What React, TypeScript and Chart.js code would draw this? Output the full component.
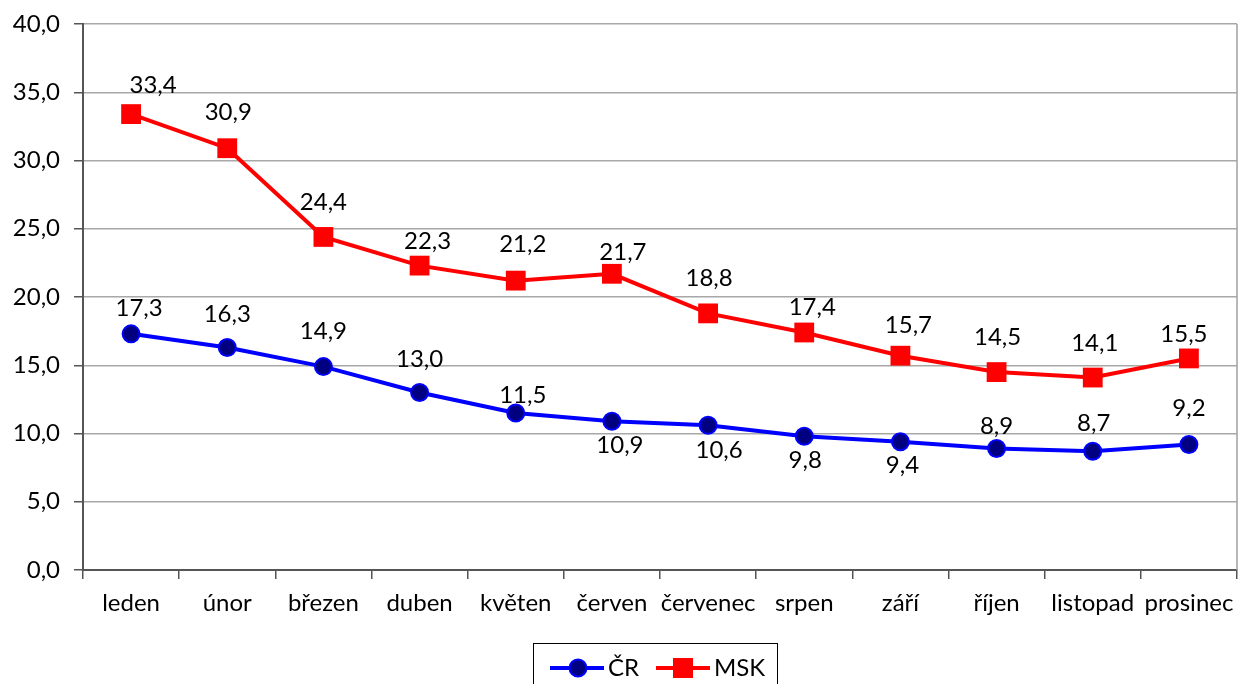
import React, { useEffect, useRef } from "react";
import { Chart, registerables } from "chart.js";

Chart.register(...registerables);

const months = ["leden", "únor", "březen", "duben", "květen", "červen", "červenec", "srpen", "září", "říjen", "listopad", "prosinec"];
const crValues = [17.3, 16.3, 14.9, 13.0, 11.5, 10.9, 10.6, 9.8, 9.4, 8.9, 8.7, 9.2];
const mskValues = [33.4, 30.9, 24.4, 22.3, 21.2, 21.7, 18.8, 17.4, 15.7, 14.5, 14.1, 15.5];
const crLabelDx = [8, 0, 0, 0, 7, 8, 11, 1, 2, 0, 1, 0];
const crLabelDy = [-26, -33, -35, -33, -18, 24, 25, 24, 24, -22, -28, -36];
const mskLabelDx = [22, 1, 0, 8, 7, 11, 1, 8, 8, 1, 2, -5];
const mskLabelDy = [-29, -36, -35, -24, -36, -22, -35, -25, -30, -35, -34, -24];

const FONT = "Lato";
const FSIZE = 24;
const fmt = (v: number) => v.toFixed(1).replace(".", ",");

const labelPlugin = {
  id: "valueLabels",
  afterDatasetsDraw(chart: any) {
    const ctx = chart.ctx;
    ctx.save();
    ctx.font = `${FSIZE}px ${FONT}`;
    ctx.fillStyle = "#000";
    ctx.textAlign = "center";
    ctx.textBaseline = "middle";
    chart.data.datasets.forEach((ds: any, di: number) => {
      const meta = chart.getDatasetMeta(di);
      const dxs = di === 0 ? crLabelDx : mskLabelDx;
      const dys = di === 0 ? crLabelDy : mskLabelDy;
      meta.data.forEach((pt: any, i: number) => {
        ctx.fillText(fmt(ds.data[i]), pt.x + dxs[i], pt.y + dys[i]);
      });
    });
    ctx.restore();
  },
};

const framePlugin = {
  id: "frame",
  beforeDatasetsDraw(chart: any) {
    const { ctx, chartArea } = chart;
    ctx.save();
    ctx.strokeStyle = "#a0a0a0";
    ctx.lineWidth = 1.5;
    ctx.beginPath();
    ctx.moveTo(chartArea.right, chartArea.top);
    ctx.lineTo(chartArea.right, chartArea.bottom);
    ctx.stroke();
    ctx.restore();
  },
  afterDraw(chart: any) {
    const ctx = chart.ctx;
    ctx.save();
    ctx.strokeStyle = "#000";
    ctx.lineWidth = 1;
    ctx.strokeRect(533.5, 643.5, 244, 60);
    const cy = 668;
    ctx.strokeStyle = "#0000FF";
    ctx.lineWidth = 4;
    ctx.beginPath();
    ctx.moveTo(550, cy);
    ctx.lineTo(604, cy);
    ctx.stroke();
    ctx.beginPath();
    ctx.arc(578, cy, 8.5, 0, Math.PI * 2);
    ctx.fillStyle = "#000080";
    ctx.fill();
    ctx.lineWidth = 2;
    ctx.stroke();
    ctx.strokeStyle = "#FF0000";
    ctx.lineWidth = 4;
    ctx.beginPath();
    ctx.moveTo(656, cy);
    ctx.lineTo(710, cy);
    ctx.stroke();
    ctx.fillStyle = "#FF0000";
    ctx.fillRect(673, cy - 10, 20, 20);
    ctx.fillStyle = "#000";
    ctx.font = `${FSIZE}px ${FONT}`;
    ctx.textAlign = "left";
    ctx.textBaseline = "middle";
    ctx.fillText("ČR", 608, cy);
    ctx.fillText("MSK", 714, cy);
    ctx.restore();
  },
};

export default function App() {
  const ref = useRef<HTMLCanvasElement>(null);
  useEffect(() => {
    document.body.style.margin = "0";
    const chart = new Chart(ref.current!, {
      type: "line",
      data: {
        labels: months,
        datasets: [
          {
            label: "ČR",
            data: crValues,
            borderColor: "#0000FF",
            borderWidth: 4,
            backgroundColor: "#000080",
            pointBackgroundColor: "#000080",
            pointBorderColor: "#0000FF",
            pointBorderWidth: 2,
            pointRadius: 8.5,
            pointStyle: "circle",
            tension: 0,
          },
          {
            label: "MSK",
            data: mskValues,
            borderColor: "#FF0000",
            borderWidth: 4,
            backgroundColor: "#FF0000",
            pointBackgroundColor: "#FF0000",
            pointBorderColor: "#FF0000",
            pointBorderWidth: 0,
            pointRadius: 14,
            pointStyle: "rect",
            tension: 0,
          },
        ],
      },
      options: {
        animation: false,
        responsive: false,
        layout: { autoPadding: false, padding: { top: 24, right: 3, left: 0, bottom: 0 } },
        plugins: { legend: { display: false }, tooltip: { enabled: false } },
        scales: {
          x: {
            type: "category",
            offset: true,
            grid: { offset: true, drawOnChartArea: false, drawTicks: true, tickLength: 9, color: "#555", lineWidth: 1.5 },
            border: { color: "#555", width: 2 },
            ticks: { color: "#000", font: { family: FONT, size: FSIZE }, padding: 10, maxRotation: 0, autoSkip: false },
            afterFit: (s: any) => { s.height = 114; s.paddingLeft = 0; s.paddingRight = 0; },
          },
          y: {
            min: 0,
            max: 40,
            ticks: { stepSize: 5, color: "#000", font: { family: FONT, size: FSIZE }, padding: 14, callback: (v: any) => fmt(Number(v)) },
            grid: { color: "#a8a8a8", lineWidth: 1.5, tickColor: "#555", tickLength: 9 },
            border: { color: "#555", width: 2 },
            afterFit: (s: any) => { s.width = 83; s.paddingTop = 0; s.paddingBottom = 0; },
          },
        },
      },
      plugins: [framePlugin, labelPlugin],
    } as any);
    return () => chart.destroy();
  }, []);
  return (
    <div style={{ position: "absolute", left: 0, top: 0, width: 1240, height: 684 }}>
      <canvas ref={ref} width={1240} height={684} />
    </div>
  );
}
